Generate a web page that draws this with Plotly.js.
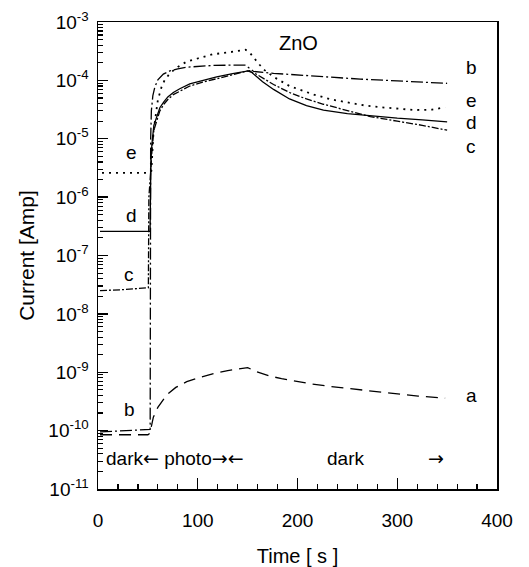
<!DOCTYPE html>
<html>
<head>
<meta charset="utf-8">
<script src="https://cdn.plot.ly/plotly-3.0.1.min.js"></script>
<style>html,body{margin:0;padding:0;background:#fff;}#chart{width:529px;height:567px;}</style>
</head>
<body>
<div id="chart"></div>
<script>
// ---- data (time in s, current in A) ----
var tA = [2, 30, 50, 52, 53.5, 55.5, 60, 69, 78, 89, 100, 116, 130, 146, 150, 159, 172, 184, 200, 214, 241, 268, 294, 321, 348];
var iA = [8.5e-11, 8.5e-11, 8.5e-11, 9e-11, 1.2e-10, 1.7e-10, 2.5e-10, 4.1e-10, 5.5e-10, 6.9e-10, 8.0e-10, 9.5e-10, 1.07e-9, 1.17e-9, 1.2e-9, 1.02e-9, 8.6e-10, 7.8e-10, 7.0e-10, 6.3e-10, 5.5e-10, 4.9e-10, 4.3e-10, 3.9e-10, 3.6e-10];

var tB = [2, 25, 50, 52.3, 52.8, 53.5, 55, 57, 60, 65.5, 72, 80, 89, 100, 115, 130, 148, 152, 156, 176, 200, 230, 263, 300, 330, 350];
var iB = [9.5e-11, 1.0e-10, 1.03e-10, 1.05e-10, 1e-5, 3e-5, 5.5e-5, 7.7e-5, 1.02e-4, 1.28e-4, 1.45e-4, 1.58e-4, 1.68e-4, 1.75e-4, 1.8e-4, 1.82e-4, 1.82e-4, 1.6e-4, 1.42e-4, 1.32e-4, 1.24e-4, 1.14e-4, 1.05e-4, 9.8e-5, 9.3e-5, 8.9e-5];

var tC = [2, 25, 50.5, 51, 53, 54, 56, 58.8, 62, 66, 70, 75.5, 82, 92, 105, 119, 135, 150, 158, 165, 176, 192, 209, 226, 250, 273, 300, 325, 350];
var iC = [2.5e-8, 2.6e-8, 2.8e-8, 1e-6, 3e-6, 6e-6, 1.4e-5, 2.1e-5, 3.0e-5, 3.9e-5, 4.7e-5, 5.7e-5, 6.6e-5, 8.0e-5, 9.3e-5, 1.07e-4, 1.22e-4, 1.45e-4, 1.3e-4, 1.1e-4, 8.5e-5, 6.2e-5, 4.8e-5, 3.9e-5, 3.0e-5, 2.4e-5, 2.0e-5, 1.7e-5, 1.4e-5];

var tD = [2, 25, 51.5, 52.2, 53, 54, 56, 58.8, 62, 66, 70, 75.5, 82, 92, 105, 119, 135, 150, 152, 158, 165, 176, 192, 209, 226, 250, 273, 300, 325, 350];
var iD = [2.6e-7, 2.6e-7, 2.6e-7, 2.6e-7, 4e-6, 8e-6, 1.7e-5, 2.4e-5, 3.4e-5, 4.3e-5, 5.2e-5, 6.2e-5, 7.2e-5, 8.7e-5, 1.0e-4, 1.15e-4, 1.3e-4, 1.45e-4, 1.47e-4, 1.2e-4, 9.5e-5, 7.0e-5, 4.8e-5, 3.7e-5, 3.1e-5, 2.7e-5, 2.45e-5, 2.25e-5, 2.1e-5, 1.95e-5];

var tE = [4, 30, 50.5, 53.5, 54.5, 55.5, 56.7, 58.8, 60, 63.8, 66.7, 72, 80, 89, 102, 115, 130, 140, 148, 152, 157, 162, 167, 176, 192, 201, 215, 234, 250, 268, 285, 300, 318, 335, 348];
var iE = [2.6e-6, 2.6e-6, 2.6e-6, 2.8e-6, 6e-6, 1.2e-5, 1.8e-5, 3.5e-5, 4.6e-5, 7.8e-5, 1.0e-4, 1.32e-4, 1.7e-4, 2.1e-4, 2.4e-4, 2.8e-4, 3.0e-4, 3.2e-4, 3.35e-4, 3.0e-4, 2.3e-4, 1.85e-4, 1.5e-4, 1.15e-4, 8.0e-5, 7.0e-5, 5.8e-5, 4.7e-5, 4.2e-5, 3.7e-5, 3.45e-5, 3.3e-5, 3.1e-5, 3.15e-5, 3.45e-5];

var yTickVals = [1e-11, 1e-10, 1e-9, 1e-8, 1e-7, 1e-6, 1e-5, 1e-4, 1e-3];
var yTickText = ['10<sup>-11</sup>', '10<sup>-10</sup>', '10<sup>-9</sup>', '10<sup>-8</sup>', '10<sup>-7</sup>', '10<sup>-6</sup>', '10<sup>-5</sup>', '10<sup>-4</sup>', '10<sup>-3</sup>'];

// minor log ticks 2..9 in each decade (axis decoration only)
var yMinor = [];
for (var k = 0; k < yTickVals.length - 1; k++) {
  for (var m = 2; m <= 9; m++) yMinor.push(m * yTickVals[k]);
}

var FONT = '"Liberation Sans", Arial, Helvetica, sans-serif';
var AR = '<span style="font-family:DejaVu Sans ExtraLight, DejaVu Sans;font-size:19px">';
var lw = 1.3;
var traces = [
  {x: tA, y: iA, mode: 'lines', line: {color: '#000', width: lw, dash: '12px,7px'}},
  {x: tB, y: iB, mode: 'lines', line: {color: '#000', width: lw, dash: '12px,3px,2px,3px'}},
  {x: tC, y: iC, mode: 'lines', line: {color: '#000', width: lw, dash: '7px,2px,2px,2px'}},
  {x: tD, y: iD, mode: 'lines', line: {color: '#000', width: lw}},
  // series e is drawn on the overlay axis (same log range) which carries the minor ticks
  {x: tE, y: iE, yaxis: 'y2', mode: 'lines', line: {color: '#000', width: 1.8, dash: '2px,5px'}}
];

function px(x) { return (x - 98) / 399; }
function py(y) { return (489 - y) / 467; }
function lab(text, x, y, size, anchor) {
  return {text: text, xref: 'paper', yref: 'paper', x: px(x), y: py(y), showarrow: false,
          xanchor: anchor || 'center', yanchor: 'middle', font: {family: FONT, size: size || 19, color: '#000'}};
}

var layout = {
  width: 529, height: 567,
  margin: {l: 98, r: 32, t: 22, b: 78},
  paper_bgcolor: '#fff', plot_bgcolor: '#fff',
  showlegend: false,
  font: {family: FONT, size: 19, color: '#000'},
  xaxis: {
    range: [0, 400], tickmode: 'linear', tick0: 0, dtick: 100,
    ticks: 'inside', ticklen: 11, tickwidth: 1.3, tickcolor: '#000',
    minor: {dtick: 20, ticks: 'inside', ticklen: 5, tickwidth: 1.2, tickcolor: '#000'},
    showline: true, linecolor: '#000', linewidth: 1.5, mirror: true,
    showgrid: false, zeroline: false,
    ticklabelstandoff: 14,
    tickfont: {family: FONT, size: 19, color: '#000'},
    title: {text: 'Time [ s ]', font: {family: FONT, size: 20, color: '#000'}, standoff: 20}
  },
  yaxis: {
    type: 'log', range: [-11, -3],
    tickmode: 'array', tickvals: yTickVals, ticktext: yTickText,
    ticks: 'inside', ticklen: 10, tickwidth: 1.3, tickcolor: '#000',
    showline: true, linecolor: '#000', linewidth: 1.5, mirror: true,
    showgrid: false, zeroline: false,
    ticklabelstandoff: 4,
    tickfont: {family: FONT, size: 19, color: '#000'},
    title: {text: 'Current [Amp]', font: {family: FONT, size: 21, color: '#000'}, standoff: 8}
  },
  yaxis2: {
    type: 'log', range: [-11, -3], overlaying: 'y', side: 'left', anchor: 'x',
    tickmode: 'array', tickvals: yMinor, showticklabels: false,
    ticks: 'inside', ticklen: 5, tickwidth: 1.1, tickcolor: '#000',
    showline: false, showgrid: false, zeroline: false
  },
  annotations: [
    lab('ZnO', 298, 43, 20),
    lab('e', 131, 152), lab('d', 131, 215), lab('c', 129, 274), lab('b', 129, 409),
    lab('b', 471, 68), lab('e', 471, 100), lab('d', 471, 123), lab('c', 471, 146), lab('a', 471, 395),
    lab('dark' + AR + '\u2190</span> photo' + AR + '\u2192\u2190</span>', 104, 458, 19, 'left'),
    lab('dark', 345, 458), lab(AR + '\u2192</span>', 436, 458)
  ]
};

Plotly.newPlot('chart', traces, layout, {staticPlot: true, displayModeBar: false});
</script>
</body>
</html>
